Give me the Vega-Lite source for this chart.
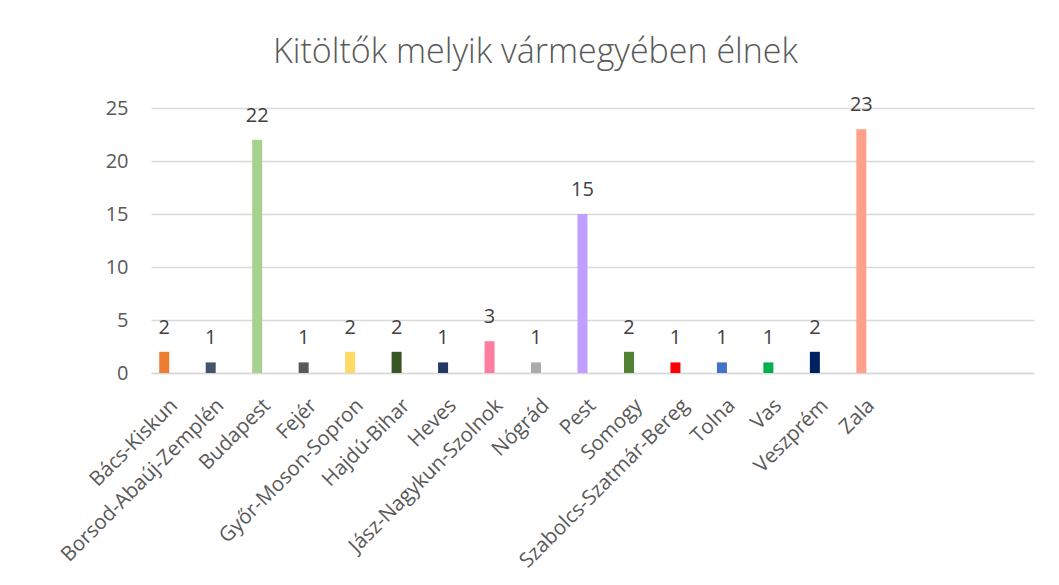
{
  "$schema": "https://vega.github.io/schema/vega-lite/v6.json",
  "width": 883,
  "height": 265,
  "autosize": "none",
  "padding": {"left": 151, "top": 108, "right": 25, "bottom": 212},
  "background": "white",
  "title": {
    "text": "Kitöltők melyik vármegyében élnek",
    "font": "Open Sans",
    "fontWeight": 300,
    "fontSize": 34,
    "color": "#595959",
    "anchor": "middle",
    "dx": -57,
    "offset": 25
  },
  "data": {
    "values": [
      {"megye": "Bács-Kiskun", "db": 2},
      {"megye": "Borsod-Abaúj-Zemplén", "db": 1},
      {"megye": "Budapest", "db": 22},
      {"megye": "Fejér", "db": 1},
      {"megye": "Győr-Moson-Sopron", "db": 2},
      {"megye": "Hajdú-Bihar", "db": 2},
      {"megye": "Heves", "db": 1},
      {"megye": "Jász-Nagykun-Szolnok", "db": 3},
      {"megye": "Nógrád", "db": 1},
      {"megye": "Pest", "db": 15},
      {"megye": "Somogy", "db": 2},
      {"megye": "Szabolcs-Szatmár-Bereg", "db": 1},
      {"megye": "Tolna", "db": 1},
      {"megye": "Vas", "db": 1},
      {"megye": "Veszprém", "db": 2},
      {"megye": "Zala", "db": 23}
    ]
  },
  "encoding": {
    "x": {
      "field": "megye",
      "type": "nominal",
      "sort": null,
      "scale": {
        "domain": ["Bács-Kiskun", "Borsod-Abaúj-Zemplén", "Budapest", "Fejér", "Győr-Moson-Sopron", "Hajdú-Bihar", "Heves", "Jász-Nagykun-Szolnok", "Nógrád", "Pest", "Somogy", "Szabolcs-Szatmár-Bereg", "Tolna", "Vas", "Veszprém", "Zala", " ", "  ", "   "],
        "paddingInner": 0,
        "paddingOuter": 0
      },
      "axis": {
        "title": null,
        "labelAngle": -45,
        "labelFont": "Open Sans",
        "labelFontSize": 20.5,
        "labelColor": "#595959",
        "labelLimit": 0,
        "labelPadding": 22,
        "labelOffset": -7,
        "ticks": false,
        "domainColor": "#d9d9d9",
        "domainWidth": 1.5,
        "grid": false
      }
    },
    "y": {
      "field": "db",
      "type": "quantitative",
      "scale": {"domain": [0, 25], "nice": false},
      "axis": {
        "title": null,
        "values": [0, 5, 10, 15, 20, 25],
        "labelFont": "Open Sans",
        "labelFontSize": 20,
        "labelColor": "#595959",
        "labelPadding": 23,
        "ticks": false,
        "domain": false,
        "gridColor": "#d9d9d9",
        "gridWidth": 1.5
      }
    }
  },
  "layer": [
    {
      "mark": {"type": "bar", "width": 10, "xOffset": -10},
      "encoding": {
        "color": {
          "field": "megye",
          "type": "nominal",
          "legend": null,
          "scale": {
            "domain": ["Bács-Kiskun", "Borsod-Abaúj-Zemplén", "Budapest", "Fejér", "Győr-Moson-Sopron", "Hajdú-Bihar", "Heves", "Jász-Nagykun-Szolnok", "Nógrád", "Pest", "Somogy", "Szabolcs-Szatmár-Bereg", "Tolna", "Vas", "Veszprém", "Zala"],
            "range": ["#ED7D31", "#44546A", "#A9D18E", "#595959", "#FFD966", "#375623", "#203864", "#FF7C9F", "#AEAAAA", "#BF9FFF", "#548235", "#FF0000", "#4472C4", "#00B050", "#002060", "#FFA18A"]
          }
        }
      }
    },
    {
      "mark": {"type": "text", "xOffset": -10, "dy": -18, "baseline": "alphabetic", "font": "Open Sans", "fontSize": 20, "color": "#404040"},
      "encoding": {"text": {"field": "db", "type": "quantitative"}}
    }
  ],
  "config": {"view": {"stroke": null}}
}
